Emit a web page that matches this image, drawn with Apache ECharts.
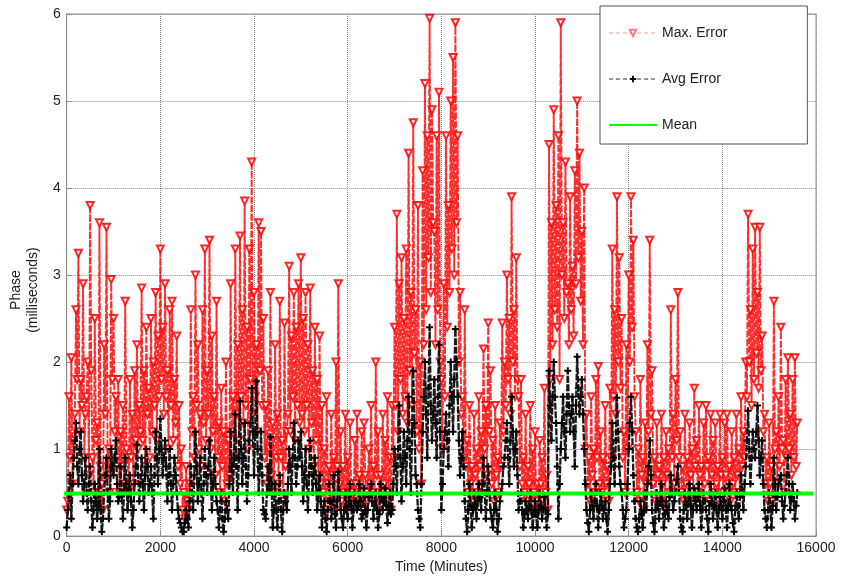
<!DOCTYPE html>
<html>
<head>
    <meta charset="utf-8">
    <title>Phase error</title>
    <script src="https://cdn.jsdelivr.net/npm/echarts@6/dist/echarts.min.js"></script>
</head>
<body style="margin:0;background:#fff">
    <div id="chart" style="width:843px;height:579px;"></div>
    <script type="text/javascript">
// values (milliseconds), one every 50 minutes starting at 0,
// plus the in-between samples (at 25, 75, 125 ... minutes)
var step = 50;
var maxError = [
    0.3, 1.6, 2.05, 1.1, 2.6, 3.25, 1.8, 2.9, 1.4, 2.0,
    3.8, 0.9, 2.5, 1.3, 3.6, 0.6, 2.2, 3.55, 1.0, 2.95,
    2.5, 1.6, 1.8, 1.2, 1.5, 2.7, 0.9, 1.8, 1.4, 1.9,
    2.2, 1.5, 2.85, 1.9, 2.4, 1.7, 2.5, 2.0, 2.8, 2.3,
    3.3, 2.4, 2.9, 1.9, 2.6, 2.7, 1.8, 2.3, 1.5, 1.0,
    0.5, 0.8, 0.3, 2.6, 1.6, 3.0, 2.2, 1.4, 2.6, 3.3,
    1.9, 3.4, 2.3, 1.6, 2.7, 1.3, 1.7, 1.2, 2.0, 1.1,
    2.9, 1.6, 3.3, 2.2, 3.45, 2.6, 3.85, 2.4, 3.3, 4.3,
    2.8, 2.2, 3.6, 3.5, 2.5, 1.5, 1.9, 2.8, 1.3, 2.2,
    1.4, 2.7, 1.1, 2.45, 1.2, 3.1, 2.3, 2.8, 2.4, 2.9,
    3.2, 2.5, 2.8, 2.2, 2.85, 1.9, 2.4, 1.8, 2.3, 1.5,
    1.0, 1.6, 0.8, 1.4, 0.9, 2.0, 2.9, 1.2, 0.8, 1.4,
    0.9, 1.3, 0.6, 1.1, 1.4, 0.7, 1.2, 1.3, 0.5, 1.0,
    1.5, 0.8, 2.0, 1.2, 0.7, 1.4, 1.1, 1.6, 0.9, 1.5,
    2.4, 3.7, 2.9, 3.2, 2.5, 3.3, 4.4, 2.8, 4.75, 2.6,
    3.8, 2.0, 4.2, 5.2, 4.6, 5.95, 4.9, 3.5, 4.6, 5.1,
    1.8, 2.9, 4.6, 3.8, 5.0, 5.5, 5.9, 4.6, 2.8, 1.6,
    2.6, 1.1, 1.5, 0.8, 1.4, 1.0, 1.6, 1.2, 2.15, 1.5,
    2.45, 1.9, 1.1, 1.5, 0.9, 1.3, 2.45, 2.0, 3.0, 2.5,
    3.9, 2.6, 3.2, 1.6, 1.8, 0.9, 1.4, 0.8, 1.5, 1.0,
    1.2, 0.6, 1.1, 0.9, 1.7, 0.7, 4.5, 3.6, 4.9, 3.8,
    4.6, 5.9, 3.6, 4.3, 2.9, 3.9, 3.1, 4.2, 5.0, 4.4,
    3.5, 4.0, 1.4, 0.9, 1.6, 1.0, 1.8, 1.95, 1.2, 0.9,
    1.5, 0.8, 1.7, 3.3, 2.6, 3.9, 3.2, 2.5, 1.2, 2.2,
    3.0, 3.9, 3.4, 1.2, 1.0, 1.8, 0.9, 1.3, 2.2, 3.4,
    1.9, 0.9, 1.3, 0.8, 1.4, 0.9, 1.2, 1.0, 2.6, 1.4,
    1.8, 2.8, 1.2, 0.8, 1.4, 0.9, 1.3, 1.0, 1.7, 1.1,
    1.5, 0.8, 1.3, 1.5, 0.9, 1.4, 1.1, 1.3, 0.8, 1.4,
    0.9, 1.3, 1.4, 0.8, 1.2, 0.9, 1.4, 1.0, 1.6, 1.2,
    2.0, 3.7, 2.6, 3.3, 3.55, 2.8, 3.55, 2.3, 1.4, 0.9,
    1.3, 0.8, 2.7, 1.2, 1.6, 2.4, 1.1, 1.8, 2.05, 1.4,
    1.8, 2.05, 1.3
];
var maxErrorHalf = [
    0.4, 0.9, 0.6, 1.4, 1.8, 1.2, 1.5, 0.9, 1.6, 0.7,
    1.9, 0.5, 1.1, 0.4, 0.8, 0.3, 1.4, 0.7, 0.5, 1.8,
    1.2, 0.9, 0.5, 0.8, 0.6, 1.0, 0.5, 0.9, 0.6, 1.1,
    1.0, 1.2, 1.1, 0.8, 1.4, 0.9, 1.2, 1.5, 1.1, 1.6,
    1.8, 1.4, 1.6, 1.0, 1.5, 1.1, 1.3, 0.8, 0.6, 0.3,
    0.2, 0.4, 0.6, 1.2, 0.9, 1.5, 1.0, 0.8, 1.3, 1.1,
    1.4, 1.0, 1.2, 0.7, 0.9, 0.5, 0.8, 0.4, 0.6, 0.7,
    1.2, 0.9, 1.4, 1.1, 1.6, 1.3, 1.5, 1.0, 1.8, 1.4,
    1.6, 1.2, 1.9, 1.5, 0.9, 0.6, 1.0, 0.7, 0.5, 0.9,
    0.6, 0.9, 0.4, 0.8, 1.4, 1.2, 1.6, 1.1, 1.5, 1.3,
    1.4, 1.2, 1.5, 1.0, 1.3, 0.8, 1.1, 0.7, 0.6, 0.5,
    0.3, 0.6, 0.4, 0.7, 0.3, 0.8, 0.6, 0.4, 0.5, 0.3,
    0.4, 0.5, 0.3, 0.6, 0.4, 0.5, 0.3, 0.7, 0.4, 0.6,
    0.5, 0.4, 0.7, 0.3, 0.5, 0.6, 0.4, 0.5, 0.3, 0.9,
    1.5, 1.2, 1.8, 1.4, 1.6, 1.3, 1.9, 1.5, 2.1, 1.2,
    1.0, 0.6, 2.2, 2.6, 3.2, 2.8, 3.6, 2.2, 2.6, 2.0,
    1.0, 1.6, 2.4, 2.8, 3.3, 3.0, 3.6, 2.0, 1.4, 0.9,
    0.8, 0.5, 0.6, 0.4, 0.7, 0.5, 0.8, 0.6, 1.0, 0.7,
    1.2, 0.6, 0.4, 0.7, 0.5, 0.8, 1.2, 1.5, 1.8, 1.4,
    2.0, 1.6, 1.8, 0.8, 0.6, 0.5, 0.4, 0.6, 0.3, 0.5,
    0.4, 0.3, 0.6, 0.4, 0.5, 0.3, 1.8, 2.2, 2.6, 2.4,
    1.8, 3.0, 2.5, 2.8, 2.2, 2.6, 2.3, 2.9, 3.2, 2.7,
    2.2, 1.0, 0.6, 0.4, 0.7, 0.5, 0.9, 0.6, 0.5, 0.4,
    0.6, 0.4, 0.9, 1.6, 1.4, 2.0, 1.7, 0.9, 0.5, 1.0,
    2.0, 2.4, 1.6, 0.5, 0.4, 0.7, 0.3, 0.6, 1.2, 1.4,
    0.6, 0.4, 0.7, 0.4, 0.6, 0.3, 0.7, 0.5, 0.9, 0.6,
    1.1, 0.9, 0.5, 0.4, 0.6, 0.4, 0.7, 0.5, 0.8, 0.5,
    0.7, 0.4, 0.6, 0.8, 0.4, 0.7, 0.5, 0.6, 0.4, 0.7,
    0.5, 0.7, 0.6, 0.4, 0.6, 0.5, 0.7, 0.5, 0.8, 0.9,
    1.6, 2.0, 1.5, 1.8, 2.1, 1.7, 1.9, 1.2, 0.6, 0.4,
    0.6, 0.4, 1.0, 0.6, 0.8, 1.0, 0.5, 0.9, 1.0, 0.7,
    0.9, 0.8
];
var avgError = [
    0.1, 0.5, 0.2, 0.9, 1.3, 0.6, 1.2, 0.4, 0.9, 0.3,
    0.8, 0.1, 0.6, 0.2, 1.0, 0.05, 0.5, 0.9, 0.2, 1.0,
    0.7, 1.1, 0.4, 0.8, 0.2, 0.9, 0.3, 0.7, 0.1, 0.6,
    1.05, 0.4, 0.9, 0.3, 1.0, 0.5, 0.8, 0.2, 1.2, 0.6,
    1.35, 0.7, 1.1, 0.4, 1.0, 0.3, 0.9, 0.5, 0.2, 0.1,
    0.05, 0.3, 0.1, 0.8, 0.3, 1.2, 0.4, 0.9, 0.2, 1.0,
    0.5, 1.1, 0.3, 0.9, 0.4, 0.1, 0.5, 0.05, 0.4, 0.2,
    1.2, 0.5, 1.4, 0.3, 1.55, 0.6, 1.3, 0.4, 1.1, 1.7,
    0.7, 1.78, 0.5, 1.2, 0.3, 0.2, 0.8, 1.14, 0.1, 0.6,
    0.1, 0.7, 0.05, 0.5, 0.3, 1.0, 0.5, 1.3, 0.6, 1.1,
    1.2, 0.4, 1.0, 0.3, 1.1, 0.5, 0.9, 0.3, 0.7, 0.1,
    0.4, 0.05, 0.6, 0.2, 0.7, 0.1, 0.74, 0.3, 0.1, 0.5,
    0.2, 0.6, 0.1, 0.5, 0.3, 0.6, 0.2, 0.55, 0.1, 0.45,
    0.6, 0.2, 0.5, 0.1, 0.6, 0.3, 0.55, 0.15, 0.5, 0.3,
    1.0, 0.5, 1.5, 0.4, 1.2, 0.6, 1.6, 0.5, 1.9, 0.7,
    0.3, 0.1, 1.2, 2.0, 0.9, 2.4, 1.1, 1.8, 0.9, 2.2,
    0.3, 1.0, 1.4, 0.8, 2.0, 1.2, 2.38, 1.6, 0.7, 1.2,
    0.4, 0.05, 0.6, 0.1, 0.5, 0.2, 0.6, 0.3, 0.9, 0.2,
    0.8, 0.3, 0.1, 0.5, 0.05, 0.4, 0.6, 0.9, 1.3, 0.6,
    1.6, 0.8, 1.2, 0.3, 0.5, 0.1, 0.4, 0.2, 0.5, 0.1,
    0.4, 0.1, 0.5, 0.2, 0.45, 0.1, 1.9, 1.1, 2.0, 1.3,
    0.2, 1.0, 1.6, 0.9, 1.9, 1.2, 1.6, 0.8, 2.06, 1.4,
    1.8, 1.0, 0.3, 0.05, 0.5, 0.2, 0.6, 0.1, 0.5, 0.2,
    0.4, 0.05, 0.6, 1.3, 0.6, 1.59, 0.8, 0.5, 0.1, 0.3,
    1.0, 1.6, 0.7, 0.2, 0.05, 0.4, 0.1, 0.5, 0.6, 1.1,
    0.3, 0.05, 0.5, 0.2, 0.6, 0.1, 0.4, 0.2, 0.7, 0.3,
    0.5, 0.8, 0.2, 0.05, 0.5, 0.2, 0.6, 0.1, 0.55, 0.3,
    0.6, 0.1, 0.5, 0.3, 0.05, 0.6, 0.2, 0.5, 0.1, 0.45,
    0.2, 0.55, 0.1, 0.6, 0.3, 0.05, 0.5, 0.2, 0.7, 0.3,
    0.8, 1.44, 0.6, 1.2, 0.9, 1.5, 0.7, 1.1, 0.3, 0.1,
    0.5, 0.1, 0.9, 0.3, 0.6, 0.7, 0.2, 0.5, 0.9, 0.3,
    0.6, 0.2, 0.5
];
var avgErrorHalf = [
    0.3, 0.7, 0.6, 1.1, 0.8, 1.0, 0.7, 0.6, 0.5, 0.6,
    0.4, 0.3, 0.4, 0.35, 0.3, 0.2, 0.7, 0.5, 0.4, 0.8,
    0.9, 0.6, 0.45, 0.5, 0.5, 0.6, 0.5, 0.4, 0.3, 0.8,
    0.7, 0.6, 0.6, 0.7, 0.8, 0.6, 0.5, 0.7, 0.9, 1.0,
    1.0, 0.9, 0.8, 0.7, 0.6, 0.6, 0.7, 0.3, 0.15, 0.05,
    0.15, 0.2, 0.4, 0.5, 0.7, 0.8, 0.6, 0.5, 0.6, 0.7,
    0.8, 0.7, 0.6, 0.6, 0.3, 0.3, 0.2, 0.2, 0.3, 0.6,
    0.8, 0.9, 0.8, 0.9, 1.0, 0.9, 0.8, 0.7, 1.3, 1.2,
    1.2, 1.0, 0.8, 0.7, 0.25, 0.5, 0.5, 0.6, 0.3, 0.3,
    0.4, 0.3, 0.3, 0.4, 0.6, 0.8, 0.9, 0.9, 0.8, 0.9,
    0.8, 0.7, 0.6, 0.7, 0.8, 0.7, 0.6, 0.5, 0.4, 0.3,
    0.2, 0.3, 0.4, 0.4, 0.25, 0.4, 0.5, 0.2, 0.3, 0.3,
    0.4, 0.35, 0.3, 0.4, 0.35, 0.4, 0.25, 0.3, 0.3, 0.5,
    0.4, 0.35, 0.3, 0.25, 0.45, 0.4, 0.35, 0.3, 0.25, 0.6,
    0.8, 1.0, 0.9, 0.8, 0.9, 1.1, 1.0, 1.2, 1.3, 0.6,
    0.2, 0.6, 1.6, 1.4, 1.7, 1.5, 1.4, 1.3, 1.6, 1.2,
    0.6, 1.2, 1.1, 1.5, 1.6, 1.8, 2.0, 1.1, 0.9, 0.8,
    0.2, 0.3, 0.35, 0.3, 0.35, 0.4, 0.45, 0.6, 0.5, 0.5,
    0.5, 0.2, 0.3, 0.3, 0.2, 0.5, 0.8, 1.1, 0.9, 1.1,
    1.2, 1.0, 0.7, 0.4, 0.3, 0.25, 0.3, 0.35, 0.3, 0.25,
    0.25, 0.3, 0.35, 0.3, 0.3, 0.25, 1.5, 1.6, 1.6, 0.8,
    0.6, 1.3, 1.2, 1.4, 1.5, 1.4, 1.2, 1.5, 1.7, 1.6,
    1.4, 0.6, 0.15, 0.3, 0.35, 0.4, 0.35, 0.3, 0.35, 0.3,
    0.2, 0.3, 0.8, 0.9, 1.1, 1.2, 0.6, 0.3, 0.2, 0.6,
    1.3, 1.2, 0.4, 0.1, 0.2, 0.25, 0.3, 0.3, 0.8, 0.7,
    0.15, 0.3, 0.35, 0.4, 0.35, 0.25, 0.3, 0.45, 0.5, 0.4,
    0.65, 0.5, 0.1, 0.3, 0.35, 0.4, 0.35, 0.3, 0.4, 0.45,
    0.35, 0.3, 0.4, 0.2, 0.35, 0.4, 0.35, 0.3, 0.3, 0.35,
    0.4, 0.3, 0.35, 0.35, 0.15, 0.3, 0.35, 0.45, 0.5, 0.6,
    1.1, 1.0, 0.9, 1.0, 1.2, 1.1, 0.9, 0.6, 0.2, 0.3,
    0.3, 0.35, 0.6, 0.45, 0.65, 0.4, 0.35, 0.7, 0.6, 0.45,
    0.4, 0.35
];
var meanValue = 0.49;
var meanSpan = [-120, 15940];
var xTicks = [0, 2000, 4000, 6000, 8000, 10000, 12000, 14000, 16000];
var yTicks = [0, 1, 2, 3, 4, 5, 6];

function interleave(onStep, half) {
    var out = [];
    for (var i = 0; i < onStep.length; i++) {
        out.push([i * step, onStep[i]]);
        if (i < half.length) out.push([i * step + step / 2, half[i]]);
    }
    return out;
}

var chart = echarts.init(document.getElementById('chart'));
var plusSymbol = 'path://M2.5,0H4.5V2.5H7V4.5H4.5V7H2.5V4.5H0V2.5H2.5Z';
var font = 'Liberation Sans, Arial, sans-serif';
var labelStyle = {fontFamily: font, fontSize: 14, color: '#222'};

var option = {
    animation: false,
    backgroundColor: '#fff',
    grid: {left: 63, right: 27, top: 14, bottom: 39, show: true, borderColor: '#8c8c8c', borderWidth: 1},
    legend: {
        orient: 'vertical',
        left: 600, top: 6,
        padding: [20, 80, 12, 8],
        itemGap: 32,
        itemWidth: 48, itemHeight: 8,
        backgroundColor: '#fff',
        borderColor: '#555', borderWidth: 1,
        textStyle: labelStyle,
        data: [
            {name: 'Max. Error', lineStyle: {color: 'rgba(255,0,0,0.4)', width: 1, type: [4, 3]},
                itemStyle: {color: 'rgba(255,0,0,0.5)'}},
            {name: 'Avg Error', lineStyle: {color: 'rgba(0,0,0,0.8)', width: 1, type: [4, 3]}},
            {name: 'Mean', itemStyle: {opacity: 0}}
        ]
    },
    xAxis: {
        type: 'value', min: xTicks[0], max: xTicks[xTicks.length - 1], interval: 2000,
        name: 'Time (Minutes)', nameLocation: 'middle', nameGap: 20,
        nameTextStyle: labelStyle,
        axisLine: {lineStyle: {color: '#8c8c8c'}},
        axisTick: {inside: true, length: 5, lineStyle: {color: '#8c8c8c'}},
        axisLabel: {fontFamily: font, fontSize: 14, color: '#222', margin: 5,
            formatter: function (v) { return String(v); }},
        splitLine: {show: true, lineStyle: {type: 'dotted', color: '#888'}}
    },
    yAxis: {
        type: 'value', min: yTicks[0], max: yTicks[yTicks.length - 1], interval: 1,
        name: 'Phase\n(milliseconds)', nameLocation: 'middle', nameGap: 22,
        nameTextStyle: {fontFamily: font, fontSize: 14, color: '#222', lineHeight: 17, padding: [0, 0, 0, -30]},
        axisLine: {lineStyle: {color: '#8c8c8c'}},
        axisTick: {inside: true, length: 5, lineStyle: {color: '#8c8c8c'}},
        axisLabel: {fontFamily: font, fontSize: 14, color: '#222', margin: 6},
        splitLine: {show: true, lineStyle: {type: 'dotted', color: '#888'}}
    },
    series: [
        {
            name: 'Max. Error', type: 'line', data: interleave(maxError, maxErrorHalf),
            symbol: 'emptyTriangle', symbolRotate: 180, symbolSize: 7,
            color: 'rgba(255,0,0,0.85)',
            itemStyle: {color: 'rgba(255,0,0,0.85)', borderWidth: 1.3},
            lineStyle: {color: 'rgba(255,0,0,0.82)', width: 1.9, type: [7, 1.5]},
            z: 2
        },
        {
            name: 'Avg Error', type: 'line', data: interleave(avgError, avgErrorHalf),
            symbol: plusSymbol, symbolSize: 7,
            color: '#000',
            itemStyle: {color: '#000'},
            lineStyle: {color: 'rgba(0,0,0,0.9)', width: 2.3, type: [7, 1.5]},
            z: 3
        },
        {
            name: 'Mean', type: 'line', clip: false,
            data: [[meanSpan[0], meanValue], [meanSpan[1], meanValue]],
            symbol: 'none', color: '#00ff00',
            lineStyle: {color: '#00ff00', width: 4},
            z: 4
        }
    ]
};
chart.setOption(option);
    </script>
</body>
</html>
